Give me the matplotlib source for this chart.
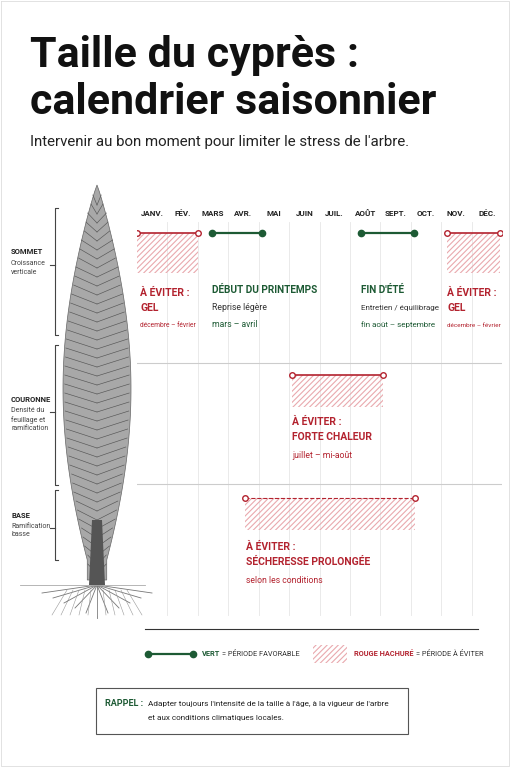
import matplotlib
matplotlib.use("Agg")
import matplotlib.pyplot as plt
import numpy as np
from matplotlib.patches import Rectangle, Polygon

plt.rcParams['font.family'] = ['Roboto', 'DejaVu Sans']
plt.rcParams['hatch.linewidth'] = 0.8

months = ["JANV.", "FÉV.", "MARS", "AVR.", "MAI", "JUIN", "JUIL.", "AOÛT", "SEPT.", "OCT.", "NOV.", "DÉC."]
period_names = ["GEL", "DÉBUT DU PRINTEMPS", "FIN D'ÉTÉ", "GEL", "FORTE CHALEUR", "SÉCHERESSE PROLONGÉE"]
period_start = [0.0, 2.45, 7.35, 10.2, 5.1, 3.55]
period_end = [2.0, 4.1, 9.1, 11.95, 8.1, 9.15]
period_kind = ["avoid", "good", "good", "avoid", "avoid", "avoid_dashed"]
period_y = [233, 233, 233, 233, 375, 498]

RED = "#b3232f"
GREEN = "#1d5a34"

fig = plt.figure(figsize=(5.11, 7.68), dpi=100)
W, H = 511, 768
bg = fig.add_axes([0, 0, 1, 1])
bg.set_xlim(0, W); bg.set_ylim(H, 0); bg.axis("off")

bg.text(30, 55, "Taille du cyprès :", fontsize=31, fontweight="bold", va="center", color="#111")
bg.text(30, 102, "calendrier saisonnier", fontsize=31, fontweight="bold", va="center", color="#111")
bg.text(30, 142, "Intervenir au bon moment pour limiter le stress de l'arbre.", fontsize=10.8, va="center", color="#222")

# Tree (stylized)
ty = np.linspace(185, 580, 60)
half = 34 * np.sin(np.clip((ty - 185) / (560 - 185), 0, 1) * np.pi * 0.92) ** 0.9
cx = 97
pts = list(zip(cx - half, ty)) + list(zip((cx + half)[::-1], ty[::-1]))
bg.add_patch(Polygon(pts, closed=True, fc="#a8a8a8", ec="#666", lw=0.5, zorder=2))
for k in range(42):
    y0 = 195 + k * 9
    idx = np.searchsorted(ty, y0)
    h = half[min(idx, len(half) - 1)]
    for s in (-1, 1):
        bg.plot([cx, cx + s * h * 0.95], [y0 + 10, y0], color="#555", lw=0.45, zorder=3)
bg.add_patch(Polygon([(92, 520), (102, 520), (105, 585), (89, 585)], fc="#555", ec="none", zorder=3))
for a in np.linspace(-1, 1, 11):
    bg.plot([97, 97 + a * 55], [585, 585 + (1 - abs(a)) * 25 + 8], color="#777", lw=0.6)
    bg.plot([97 + a * 30, 97 + a * 45], [590, 615], color="#999", lw=0.4)
bg.plot([20, 145], [585, 585], color="#aaa", lw=0.6)

brackets = [(208, 335, 265, "SOMMET", "Croissance\nverticale"),
            (345, 485, 412, "COURONNE", "Densité du\nfeuillage et\nramification"),
            (490, 560, 528, "BASE", "Ramification\nbasse")]
for y1, y2, ym, t, sub in brackets:
    bg.plot([58, 55, 55, 58], [y1, y1, y2, y2], color="#444", lw=0.8)
    bg.plot([50, 55], [ym, ym], color="#444", lw=0.8)
    bg.text(11, ym - 13, t, fontsize=5.5, fontweight="bold", va="center", color="#222")
    bg.text(11, ym - 5, sub, fontsize=5, va="top", color="#444", linespacing=1.3)

ax = fig.add_axes([137 / W, 1 - 620 / H, (502 - 137) / W, (620 - 195) / H])
ax.set_xlim(0, 12); ax.set_ylim(620, 195); ax.axis("off")
for m in range(1, 12):
    ax.plot([m, m], [222, 615], color="#e6e6e6", lw=0.6, zorder=0)
for i, mname in enumerate(months):
    ax.text(i + 0.5, 213, mname, ha="center", va="center", fontsize=5.8, fontweight="bold", color="#222")
for yy in (363, 484):
    ax.plot([0, 12], [yy, yy], color="#ccc", lw=0.8)

for s, e, y, kind in zip(period_start, period_end, period_y, period_kind):
    if kind == "good":
        ax.plot([s, e], [y, y], color=GREEN, lw=1.6, marker="o", ms=4.5)
    else:
        ls = "--" if kind == "avoid_dashed" else "-"
        ax.add_patch(Rectangle((s, y), e - s, 40 if y < 300 else 32, fc="none", ec="#e9a9ae", hatch="//////", lw=0))
        ax.plot([s, e], [y, y], color=RED, lw=1.2 if ls == "-" else 0.8, ls=ls,
                marker="o", ms=4, mfc="white", mec=RED)

def label(x, y, lines):
    yy = y
    for t, fs, fw, c, step in lines:
        ax.text(x, yy, t, fontsize=fs, fontweight=fw, color=c, va="center")
        yy += step

label(period_start[0] + 0.1, 293, [("À ÉVITER :", 7.5, "bold", RED, 15), ("GEL", 7.5, "bold", RED, 18), ("décembre – février", 4.8, "normal", RED, 0)])
label(period_start[1], 290, [("DÉBUT DU PRINTEMPS", 7.2, "bold", GREEN, 18), ("Reprise légère", 6.2, "normal", "#333", 17), ("mars – avril", 6.2, "normal", GREEN, 0)])
label(period_start[2], 290, [("FIN D'ÉTÉ", 7.2, "bold", GREEN, 18), ("Entretien / équilibrage", 5.8, "normal", "#333", 17), ("fin août – septembre", 5.8, "normal", GREEN, 0)])
label(period_start[3] + 0.0, 293, [("À ÉVITER :", 7.5, "bold", RED, 15), ("GEL", 7.5, "bold", RED, 18), ("décembre – février", 4.6, "normal", RED, 0)])
label(period_start[4], 422, [("À ÉVITER :", 7.5, "bold", RED, 15), ("FORTE CHALEUR", 7.5, "bold", RED, 19), ("juillet – mi-août", 6.2, "normal", RED, 0)])
label(period_start[5] + 0.05, 547, [("À ÉVITER :", 7.5, "bold", RED, 15), ("SÉCHERESSE PROLONGÉE", 7.5, "bold", RED, 19), ("selon les conditions", 6.2, "normal", RED, 0)])

bg.plot([145, 478], [629, 629], color="#333", lw=0.8)
bg.plot([148, 193], [654, 654], color=GREEN, lw=1.6, marker="o", ms=4.5)
bg.add_patch(Rectangle((313, 645), 34, 18, fc="none", ec="#e9a9ae", hatch="//////", lw=0))

renderer = fig.canvas.get_renderer()
def chain(x, y, parts):
    for t, fw, c in parts:
        txt = bg.text(x, y, t, fontsize=5.3, fontweight=fw, color=c, va="center")
        ext = txt.get_window_extent(renderer)
        x += ext.width + 2
chain(202, 654, [("VERT", "bold", GREEN), ("= PÉRIODE FAVORABLE", "normal", "#333")])
chain(354, 654, [("ROUGE HACHURÉ", "bold", RED), ("= PÉRIODE À ÉVITER", "normal", "#333")])

bg.add_patch(Rectangle((96, 688), 312, 46, fc="white", ec="#555", lw=0.8))
bg.text(105, 704, "RAPPEL :", fontsize=6.5, fontweight="bold", color=GREEN, va="center")
bg.text(148, 704, "Adapter toujours l'intensité de la taille à l'âge, à la vigueur de l'arbre", fontsize=5.9, color="#222", va="center")
bg.text(148, 718, "et aux conditions climatiques locales.", fontsize=5.9, color="#222", va="center")

bg.plot([1, 509, 509, 1, 1], [1, 1, 766, 766, 1], color="#ddd", lw=0.6)

fig.savefig("out.png", dpi=100, facecolor="white")
